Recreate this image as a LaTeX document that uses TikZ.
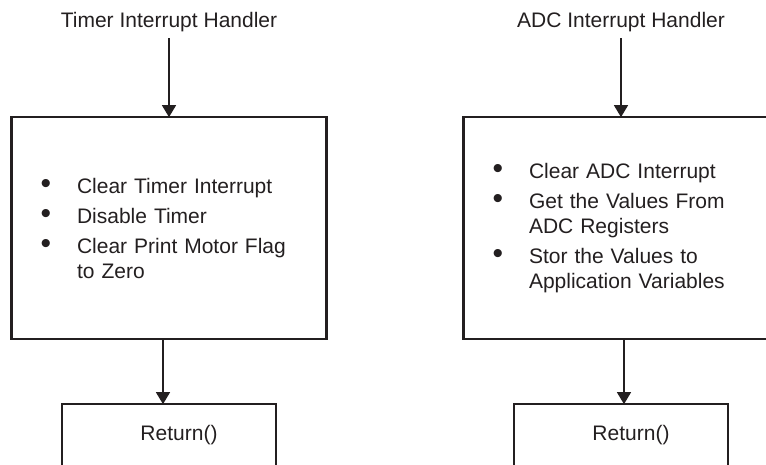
\documentclass[tikz,border=0pt]{standalone}
\usepackage{fontspec}
\setmainfont{Liberation Sans}
\usetikzlibrary{positioning,arrows.meta}
\definecolor{ink}{HTML}{231F20}
\newcommand{\itembul}{\makebox[36.5pt][l]{\fontsize{30}{25}\selectfont\textbullet}}
\newcommand{\itemcont}{\hspace*{36.5pt}}
\tikzset{
  handler/.style={font=\fontsize{21}{25}\selectfont,text=ink,inner xsep=0pt,inner ysep=5.6pt,anchor=base},
  taskbox/.style={draw=ink,line width=2.6pt,outer sep=0pt,minimum width=315pt,minimum height=222pt,text width=257pt,align=left,inner sep=0pt,font=\fontsize{21}{25}\selectfont,text=ink},
  retbox/.style={draw=ink,line width=2.6pt,outer sep=0pt,minimum width=214pt,minimum height=62pt},
  rettext/.style={font=\fontsize{21}{25}\selectfont,text=ink,inner sep=0pt,xshift=10pt},
  arrow/.style={-{Triangle[length=12pt,width=14pt]},draw=ink,line width=1.3pt}
}

\begin{document}
\begin{tikzpicture}[x=1pt,y=-1pt]
  \useasboundingbox (0,0) rectangle (766,465);
  \clip (0,0) rectangle (766,465);
  % timer side
  \node[handler] (ttitle) at (169,28) {Timer Interrupt Handler};
  \node[taskbox,below=79pt of ttitle] (tbox) {\itembul Clear Timer Interrupt\\[5pt]
    \itembul Disable Timer\\[5pt]
    \itembul Clear Print Motor Flag\\
    \itemcont to Zero};
  \node[retbox,below=65pt of tbox,label={[rettext]center:Return()}] (tret) {};
  \draw[arrow] (ttitle.south) -- (tbox.north);
  \draw[arrow] ([xshift=-6pt]tbox.south) -- ([xshift=-6pt]tret.north);
  % adc side
  \node[handler] (atitle) at (621,28) {ADC Interrupt Handler};
  \node[taskbox,below=79pt of atitle] (abox) {\itembul Clear ADC Interrupt\\[5pt]
    \itembul Get the Values From\\
    \itemcont ADC Registers\\[5pt]
    \itembul Stor the Values to\\
    \itemcont Application Variables};
  \node[retbox,below=65pt of abox,label={[rettext]center:Return()}] (aret) {};
  \draw[arrow] (atitle.south) -- (abox.north);
  \draw[arrow] ([xshift=3pt]abox.south) -- ([xshift=3pt]aret.north);
\end{tikzpicture}
\end{document}
